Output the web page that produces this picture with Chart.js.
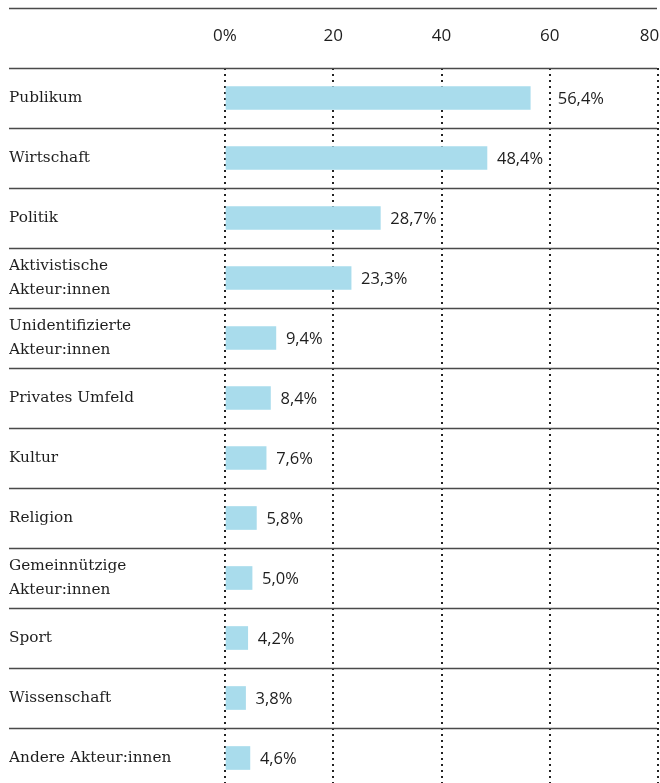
<!DOCTYPE html>
<html lang="de">
<head>
<meta charset="UTF-8">
<script src="https://cdn.jsdelivr.net/npm/chart.js"></script>
<style>
  html, body { margin: 0; padding: 0; background: #fff; overflow: hidden; }
</style>
</head>
<body>
<canvas id="myChart" width="660" height="790"></canvas>
<script>
// categories (multi-line ones as arrays)
var categories = [
    'Publikum',
    'Wirtschaft',
    'Politik',
    ['Aktivistische', 'Akteur:innen'],
    ['Unidentifizierte', 'Akteur:innen'],
    'Privates Umfeld',
    'Kultur',
    'Religion',
    ['Gemeinnützige', 'Akteur:innen'],
    'Sport',
    'Wissenschaft',
    'Andere Akteur:innen'
];
var shares = [56.4, 48.4, 28.7, 23.3, 9.4, 8.4, 7.6, 5.8, 5.0, 4.2, 3.8, 4.6];
var xTicks = [0, 20, 40, 60, 80];

var lineColor = '#4a4a4a';
var textColor = '#1e1e1e';
var numFont = '"Open Sans", sans-serif';

// top rule + row separators, spanning the whole width
var rowLines = {
    id: 'rowLines',
    beforeDatasetsDraw: function (chart) {
        var ctx = chart.ctx;
        var y = chart.scales.y;
        var x0 = 9, x1 = chart.chartArea.right - 1;
        var half = (y.getPixelForValue(1) - y.getPixelForValue(0)) / 2;
        ctx.save();
        ctx.strokeStyle = lineColor;
        ctx.lineWidth = 1.5;
        ctx.beginPath();
        ctx.moveTo(x0, 8.5); ctx.lineTo(x1, 8.5);
        for (var i = 0; i < categories.length; i++) {
            var yy = Math.round(y.getPixelForValue(i) - half) + 0.5;
            ctx.moveTo(x0, yy); ctx.lineTo(x1, yy);
        }
        ctx.stroke();
        ctx.restore();
    }
};

// value labels next to bars, moved past a gridline if they would cross it
var valueLabels = {
    id: 'valueLabels',
    afterDatasetsDraw: function (chart) {
        var ctx = chart.ctx;
        var xs = chart.scales.x;
        var grid = xTicks.map(function (t) { return xs.getPixelForValue(t); });
        var meta = chart.getDatasetMeta(0);
        ctx.save();
        ctx.font = '16.5px ' + numFont;
        ctx.fillStyle = textColor;
        ctx.textBaseline = 'middle';
        meta.data.forEach(function (bar, i) {
            var txt = shares[i].toFixed(1).replace('.', ',') + '%';
            var w = ctx.measureText(txt).width;
            var x = bar.x + 10;
            grid.forEach(function (g) {
                if (g > x - 3 && g < x + w + 3) x = g + 8;
            });
            ctx.fillText(txt, x, bar.y + 1);
        });
        ctx.restore();
    }
};

var ctx = document.getElementById('myChart').getContext('2d');
var myChart = new Chart(ctx, {
    type: 'bar',
    data: {
        labels: categories,
        datasets: [{
            data: shares,
            backgroundColor: '#a9dcec',
            borderWidth: 0,
            barThickness: 23
        }]
    },
    options: {
        indexAxis: 'y',
        responsive: false,
        animation: false,
        layout: { padding: { left: 9, right: 2, top: 0, bottom: 2 } },
        plugins: {
            legend: { display: false },
            tooltip: { enabled: false }
        },
        scales: {
            x: {
                position: 'top',
                min: 0,
                max: 80,
                afterBuildTicks: function (scale) {
                    scale.ticks = xTicks.map(function (v) { return { value: v }; });
                },
                afterFit: function (scale) {
                    scale.height = 68;
                    scale.paddingLeft = 0;
                    scale.paddingRight = 0;
                },
                ticks: {
                    padding: 22,
                    color: textColor,
                    font: { family: numFont, size: 17 },
                    callback: function (v) {
                        if (v === 0) return '0%';
                        // last label sits a bit inside the edge
                        if (v === 80) return '80\u2003';
                        return v;
                    }
                },
                grid: {
                    color: '#222',
                    lineWidth: 2,
                    drawTicks: false
                },
                border: { display: false, dash: [2, 4] }
            },
            y: {
                afterFit: function (scale) {
                    scale.width = 216;
                    scale.paddingTop = 0;
                    scale.paddingBottom = 0;
                },
                ticks: {
                    crossAlign: 'far',
                    padding: 0,
                    color: textColor,
                    font: { family: '"DejaVu Serif", serif', size: 15.3, lineHeight: 1.55 }
                },
                grid: { display: false },
                border: { display: false }
            }
        }
    },
    plugins: [rowLines, valueLabels]
});
</script>
</body>
</html>
